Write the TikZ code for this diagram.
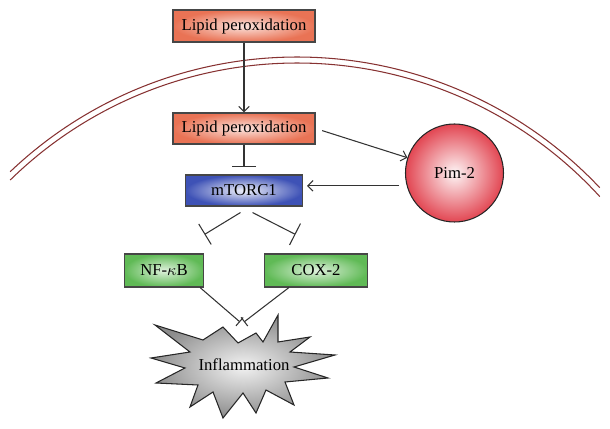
\documentclass[tikz,border=0pt]{standalone}
\usepackage{fontspec}
\setmainfont{Liberation Serif}
\usepackage{tikz}
\usetikzlibrary{arrows.meta,positioning,shapes,backgrounds}
\definecolor{lipidred}{RGB}{233,115,85}
\definecolor{mtorblue}{RGB}{62,82,182}
\definecolor{nfgreen}{RGB}{96,186,86}
\definecolor{pimred}{RGB}{226,70,82}
\definecolor{membranered}{RGB}{135,50,50}
\definecolor{boxedge}{RGB}{70,70,70}
\tikzset{%
	block/.style    = {draw=boxedge, rectangle, line width=0.6pt, minimum height=0.64cm, text centered, font=\fontsize{9.5}{11}\selectfont},
	lipid/.style    = {block, minimum width=2.84cm, inner color=lipidred!20!white, outer color=lipidred},
	mtor/.style     = {block, minimum width=2.34cm, minimum height=0.62cm, inner color=mtorblue!8!white, outer color=mtorblue},
	factor/.style   = {block, minimum height=0.66cm, inner color=nfgreen!20!white, outer color=nfgreen},
	kinase/.style   = {draw=black!85, circle, line width=0.6pt, minimum size=1.96cm, inner color=pimred!5!white, outer color=pimred, font=\fontsize{9.5}{11}\selectfont},
	arrow/.style    = {semithick, draw=black!80, -{Straight Barb[length=3pt,width=6pt]}},
	inhibit/.style  = {semithick, draw=black!80, -{Bar[width=0.48cm]}},
	membrane/.style = {draw=membranered, line width=0.6pt},
}

\begin{document}
\begin{tikzpicture}[node distance=1.5cm,auto]
		\useasboundingbox (0,0) rectangle (12.2,-8.58);
		% cell membrane
		\draw[membrane] (5.94,-9.46) ++(133.6:8.32) arc[start angle=133.6, end angle=43.3, radius=8.32];
		\draw[membrane] (5.94,-9.46) ++(134.4:8.2) arc[start angle=134.4, end angle=42.4, radius=8.2];
		
		\node [lipid] (lpo) at (4.88,-0.52) {Lipid peroxidation};
		\node [lipid, minimum height=0.62cm] (lpoin) [below of=lpo, node distance=2.05cm] {Lipid peroxidation};
		\node [mtor] (mtorc) [below of=lpoin, node distance=1.24cm] {mTORC1};
		\node [kinase] (pim) [right of=mtorc, node distance=4.21cm, yshift=0.35cm] {Pim-2};
		\node [factor, minimum width=1.58cm] (nfkb) [below of=mtorc, node distance=1.6cm, xshift=-1.6cm] {NF-$\kappa$B};
		\node [factor, minimum width=2.06cm] (cox) [below of=mtorc, node distance=1.6cm, xshift=1.44cm] {COX-2};
		\node [font=\fontsize{9.5}{11}\selectfont] (infl) [below of=mtorc, node distance=3.49cm] {Inflammation};
		\coordinate (infltop) at ([shift={(-0.04,0.86)}]infl.center);
		
		% star behind the text
		\begin{scope}[on background layer, shift={(infl.center)}, x=0.02cm, y=-0.02cm]
			\draw[black!85, line width=0.6pt, inner color=gray!10, outer color=gray!90]
				(-89,-40) -- (-41,-25) -- (-21,-38) -- (-6,-22) -- (12,-32) -- (19,-23)
				-- (34,-50) -- (34,-23) -- (66,-28) -- (46,-13) -- (91,-10) -- (50,2)
				-- (84,13) -- (41,17) -- (50,40) -- (22,25) -- (12,48) -- (-1,28)
				-- (-21,53) -- (-31,27) -- (-54,42) -- (-46,20) -- (-88,18) -- (-59,3)
				-- (-93,-7) -- (-54,-13) -- cycle;
		\end{scope}
		
		\draw[arrow] (lpo) -- (lpoin);
		\draw[inhibit] (lpoin) -- ([yshift=0.14cm]mtorc.north);
		\draw[arrow, shorten <=0.14cm] (lpoin.east) -- (pim.162);
		\draw[arrow, shorten <=0.15cm, shorten >=0.08cm] (pim.195) -- (pim.195 -| mtorc.east);
		\draw[inhibit] ([shift={(-0.07,-0.12)}]mtorc.south) -- ([shift={(0.81,0.38)}]nfkb.north);
		\draw[inhibit] ([shift={(0.17,-0.12)}]mtorc.south) -- ([shift={(-0.41,0.38)}]cox.north);
		\draw[semithick, draw=black!80, -{Bar[width=0.22cm]}] ([xshift=-0.08cm]nfkb.south east) -- ([xshift=-0.04cm]infltop);
		\draw[semithick, draw=black!80, -{Bar[width=0.22cm]}] ([xshift=0.5cm]cox.south west) -- ([xshift=0.04cm]infltop);
		\end{tikzpicture}
\end{document}
